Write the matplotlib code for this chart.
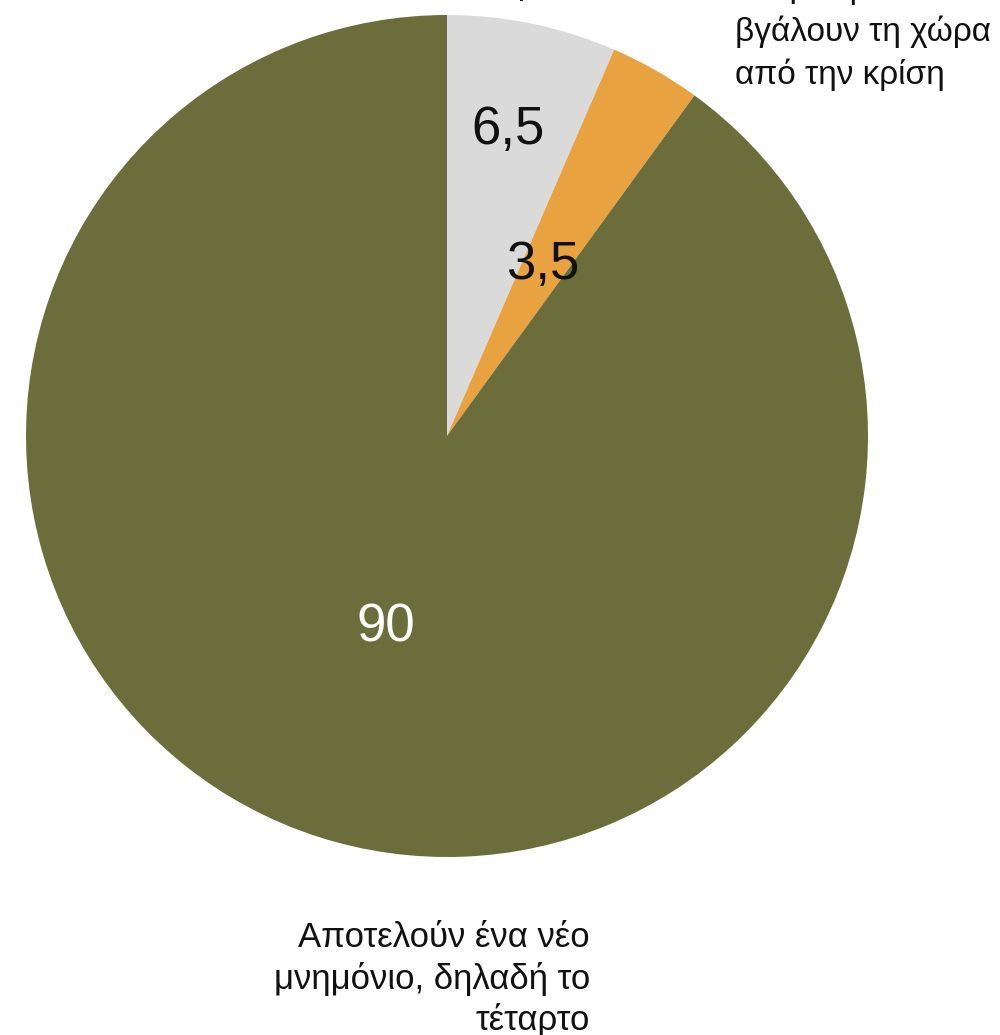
import matplotlib.pyplot as plt

plt.rcParams['font.family'] = ['Liberation Sans', 'DejaVu Sans']

values = [6.5, 3.5, 90]
value_labels = ['6,5', '3,5', '90']
colors = ['#dadada', '#e8a23f', '#6b6e3a']
label_colors = ['#111111', '#111111', 'white']
# label positions in axes data units (pie radius = 1)
label_pos = [(0.145, 0.727), (0.228, 0.406), (-0.145, -0.456)]

W, H = 1000, 1035
fig = plt.figure(figsize=(W / 100, H / 100), dpi=100)

cx, cy, r = 447, 436, 421
ax = fig.add_axes([(cx - r) / W, 1 - (cy + r) / H, 2 * r / W, 2 * r / H])
ax.pie(values, colors=colors, startangle=90, counterclock=False, radius=1,
       wedgeprops=dict(linewidth=0))
ax.set_xlim(-1, 1)
ax.set_ylim(-1, 1)
ax.set_aspect('equal')
ax.axis('off')

for txt, (x, y), c in zip(value_labels, label_pos, label_colors):
    ax.text(x, y, txt, ha='center', va='center', fontsize=38, color=c)

# category labels (top ones partly cut off by the figure edge, as in the source)
fig.text(735 / W, 1 - 84 / H, 'Θα μπορέσουν να\nβγάλουν τη χώρα\nαπό την κρίση',
         ha='left', va='baseline', fontsize=24, color='#111111', linespacing=1.42)
fig.text(572 / W, 1 + 6 / H, 'Δεν ξέρω,', ha='right', va='baseline',
         fontsize=24, color='#111111')
fig.text(590 / W, 1 - 1030 / H,
         'Αποτελούν ένα νέο\nμνημόνιο, δηλαδή το\nτέταρτο',
         ha='right', va='baseline', fontsize=25, color='#111111', linespacing=1.27)

fig.savefig('out.png', dpi=100)
